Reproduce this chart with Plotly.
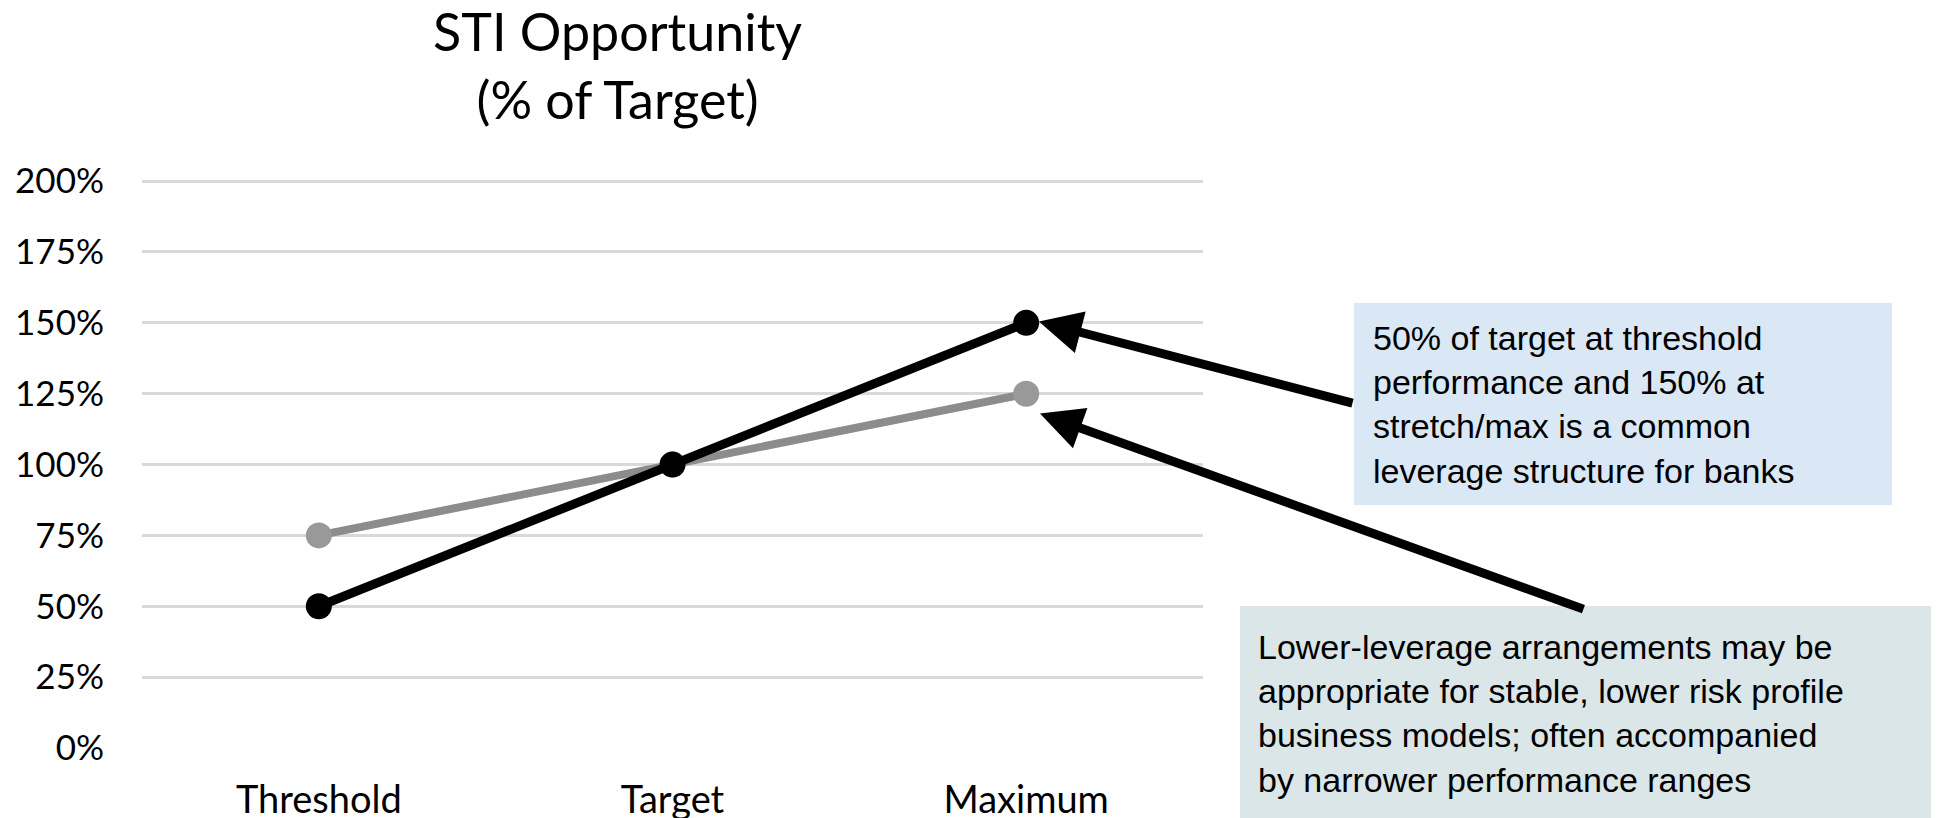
import plotly.graph_objects as go

categories = ["Threshold", "Target", "Maximum"]
lower_leverage = [0.75, 1.00, 1.25]
standard_leverage = [0.50, 1.00, 1.50]
y_tick_values = [0, 0.25, 0.5, 0.75, 1.0, 1.25, 1.5, 1.75, 2.0]
y_tick_labels = ["0%", "25%", "50%", "75%", "100%", "125%", "150%", "175%", "200%"]
title_lines = ["STI Opportunity", "(% of Target)"]
note_top = ("50% of target at threshold<br>performance and 150% at<br>"
            "stretch/max is a common<br>leverage structure for banks")
note_bottom = ("Lower-leverage arrangements may be<br>appropriate for stable, lower risk profile<br>"
               "business models; often accompanied<br>by narrower performance ranges")

W, H = 1939, 818
OFF = 8  # default page body margin
# plot area in screen pixels
L_s, R_s, T_s, B_s = 142, 1203, 180, 748
L, R, T, B = L_s - OFF, R_s - OFF, T_s - OFF, B_s - OFF
Y_MAX = 2.004


def px(xs):
    return (xs - OFF - L) / (R - L)


def py(ys):
    return (B - (ys - OFF)) / (B - T)


fig = go.Figure()
fig.add_trace(go.Scatter(
    x=categories, y=lower_leverage, mode="lines+markers",
    line=dict(color="#8C8C8C", width=8),
    marker=dict(color="#999999", size=26),
    cliponaxis=False, showlegend=False))
fig.add_trace(go.Scatter(
    x=categories, y=standard_leverage, mode="lines+markers",
    line=dict(color="#000000", width=9),
    marker=dict(color="#000000", size=26),
    cliponaxis=False, showlegend=False))

font_main = "Lato, 'Open Sans', sans-serif"
font_note = "'Liberation Sans', Arial, sans-serif"

fig.update_layout(
    width=W, height=H,
    margin=dict(l=L, r=W - R, t=T, b=H - B, pad=0),
    plot_bgcolor="white", paper_bgcolor="white",
    xaxis=dict(type="category", range=[-0.5, 2.5], showgrid=False, zeroline=False,
               showline=False, ticks="", automargin=False,
               tickfont=dict(family=font_main, size=38, color="#000000"),
               ticklabelstandoff=26),
    yaxis=dict(range=[0, Y_MAX], tickvals=y_tick_values, ticktext=y_tick_labels,
               showgrid=True, gridcolor="#D9D9D9", gridwidth=2.5, zeroline=False,
               showline=False, ticks="", automargin=False,
               tickfont=dict(family=font_main, size=35, color="#000000"),
               ticklabelstandoff=37),
    shapes=[
        dict(type="rect", xref="paper", yref="paper", x0=px(1354), x1=px(1892),
             y0=py(505), y1=py(303), fillcolor="#DAE7F5", line=dict(width=0), layer="below"),
        dict(type="rect", xref="paper", yref="paper", x0=px(1240), x1=px(1950),
             y0=py(840), y1=py(606), fillcolor="#DAE6E8", line=dict(width=0), layer="below"),
    ],
)

annotations = [
    dict(text="<br>".join(title_lines), xref="paper", yref="paper", x=px(617), y=py(65),
         xanchor="center", yanchor="middle", showarrow=False,
         font=dict(family=font_main, size=52, color="#000000")),
    dict(text=note_top, xref="paper", yref="paper", x=px(1371), y=py(404),
         xanchor="left", yanchor="middle", align="left", showarrow=False,
         font=dict(family=font_note, size=34, color="#000000")),
    dict(text=note_bottom, xref="paper", yref="paper", x=px(1256), y=py(713),
         xanchor="left", yanchor="middle", align="left", showarrow=False,
         font=dict(family=font_note, size=34, color="#000000")),
    # arrows
    dict(x=2.036, y=1.505, xref="x", yref="y", ax=2.927, ay=1.2155, axref="x", ayref="y",
         text="", showarrow=True, arrowhead=2, arrowsize=0.95, arrowwidth=9, arrowcolor="#000000"),
    dict(x=2.039, y=1.180, xref="x", yref="y", ax=3.580, ay=0.488, axref="x", ayref="y",
         text="", showarrow=True, arrowhead=2, arrowsize=0.95, arrowwidth=9, arrowcolor="#000000"),
]
fig.update_layout(annotations=annotations)

fig.write_html("out.html")
